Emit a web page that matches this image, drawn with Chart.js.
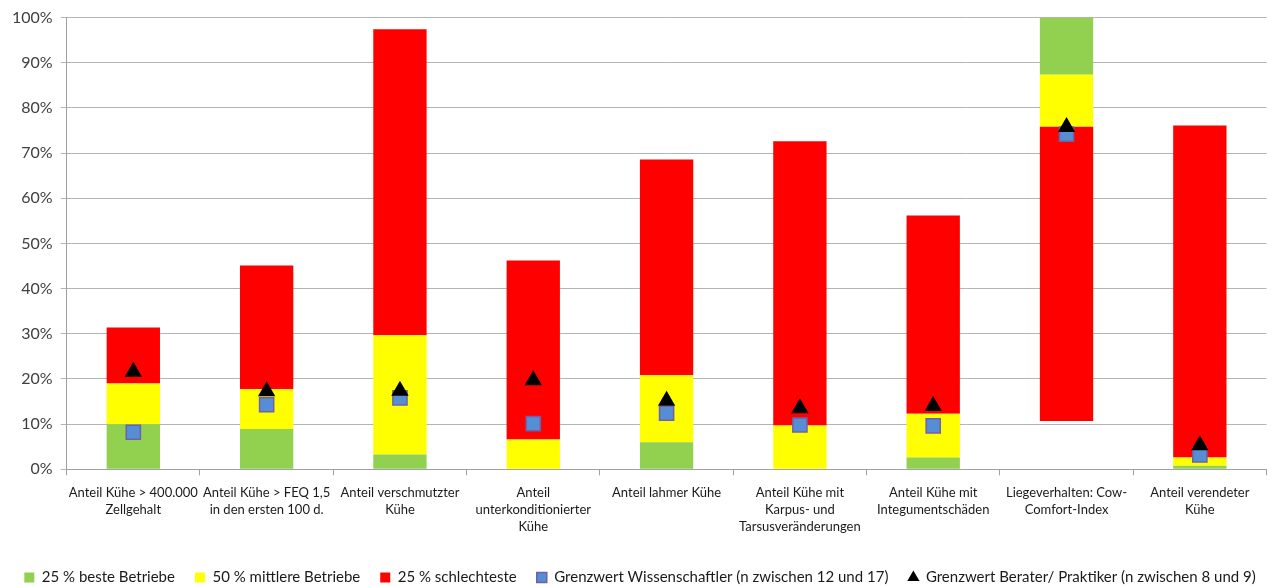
<!DOCTYPE html>
<html>
<head>
<meta charset="utf-8">
<script src="https://cdn.jsdelivr.net/npm/chart.js@4/dist/chart.umd.min.js"></script>
<style>
  html, body { margin: 0; padding: 0; background: #fff; }
  #wrap { width: 1278px; height: 587px; position: relative; }
</style>
</head>
<body>
<div id="wrap"><canvas id="barChart"></canvas></div>
<script>
// categories (multi-line labels as in the original)
const categories = [
    ["Anteil Kühe > 400.000", "Zellgehalt"],
    ["Anteil Kühe > FEQ 1,5", "in den ersten 100 d."],
    ["Anteil verschmutzter", "Kühe"],
    ["Anteil", "unterkonditionierter", "Kühe"],
    ["Anteil lahmer Kühe"],
    ["Anteil Kühe mit", "Karpus- und", "Tarsusveränderungen"],
    ["Anteil Kühe mit", "Integumentschäden"],
    ["Liegeverhalten: Cow-", "Comfort-Index"],
    ["Anteil verendeter", "Kühe"]
]

// floating ranges [from, to] in %
const best25 = [[0, 10], [0, 8.9], [0, 3.3], [0, 0], [0, 6], [0, 0], [0, 2.6], [87.4, 100], [0, 0.8]]
const middle50 = [[10, 19], [8.9, 17.8], [3.3, 29.7], [0, 6.6], [6, 20.8], [0, 9.7], [2.6, 12.3], [75.9, 87.4], [0.8, 2.6]]
const worst25 = [[19, 31.4], [17.8, 45.1], [29.7, 97.4], [6.6, 46.2], [20.8, 68.6], [9.7, 72.6], [12.3, 56.2], [10.7, 75.9], [2.6, 76.1]]

// threshold markers in %
const grenzWiss = [8.2, 14.3, 15.8, 10.1, 12.4, 9.8, 9.6, 74.2, 3.2]
const grenzBerater = [21.6, 17.3, 17.4, 19.7, 15.2, 13.5, 14.0, 75.8, 5.3]

const yTicks = [0, 10, 20, 30, 40, 50, 60, 70, 80, 90, 100]

const fontFam = "Lato, 'Open Sans', 'Liberation Sans', sans-serif"

function barSet(label, data, color){
    return {
        type: 'bar',
        label: label,
        data: data,
        backgroundColor: color,
        borderWidth: 0,
        grouped: false,
        barPercentage: 0.4,
        categoryPercentage: 1,
        pointStyle: 'rect',
        order: 2
    }
}

new Chart("barChart", {
    type: 'bar',
    data: {
        labels: categories,
        datasets: [
            barSet("25 % beste Betriebe", best25, '#92D050'),
            barSet("50 % mittlere Betriebe", middle50, '#FFFF00'),
            barSet("25 % schlechteste", worst25, '#FF0000'),
            {
                type: 'line',
                label: "Grenzwert Wissenschaftler (n zwischen 12 und 17)",
                data: grenzWiss,
                showLine: false,
                pointStyle: 'rect',
                pointRadius: 10,
                pointHoverRadius: 10,
                backgroundColor: '#558ED5',
                borderColor: '#7060A8',
                pointBorderWidth: 1.5,
                order: 1
            },
            {
                type: 'line',
                label: "Grenzwert Berater/ Praktiker (n zwischen 8 und 9)",
                data: grenzBerater,
                showLine: false,
                pointStyle: 'triangle',
                pointRadius: 10,
                pointHoverRadius: 10,
                backgroundColor: '#000000',
                borderColor: '#000000',
                pointBorderWidth: 0,
                order: 0
            }
        ]
    },
    options: {
        responsive: true,
        maintainAspectRatio: false,
        animation: false,
        layout: { padding: { top: 14, right: 2, left: 4, bottom: -8 } },
        scales: {
            x: {
                offset: true,
                grid: {
                    offset: true,
                    drawOnChartArea: false,
                    color: '#A0A0A0',
                    tickLength: 6
                },
                border: { color: '#A0A0A0' },
                ticks: {
                    maxRotation: 0,
                    autoSkip: false,
                    color: '#1A1A1A',
                    font: { family: fontFam, size: 13, lineHeight: 1.3 },
                    padding: 9
                }
            },
            y: {
                min: 0,
                max: 100,
                afterBuildTicks: (axis) => { axis.ticks = yTicks.map(v => ({ value: v })) },
                grid: { color: '#B4B4B4', tickLength: 6 },
                border: { color: '#A0A0A0' },
                ticks: {
                    color: '#404040',
                    font: { family: fontFam, size: 16 },
                    padding: 8,
                    callback: (v) => v + '%'
                }
            }
        },
        plugins: {
            legend: {
                position: 'bottom',
                title: { display: true, text: '', font: { size: 6, lineHeight: 1 }, padding: 0 },
                labels: {
                    usePointStyle: true,
                    boxWidth: 10,
                    boxHeight: 10,
                    padding: 20,
                    color: '#1A1A1A',
                    font: { family: fontFam, size: 15 },
                    sort: (a, b) => a.datasetIndex - b.datasetIndex
                }
            },
            tooltip: { enabled: false }
        }
    }
})
</script>
</body>
</html>
